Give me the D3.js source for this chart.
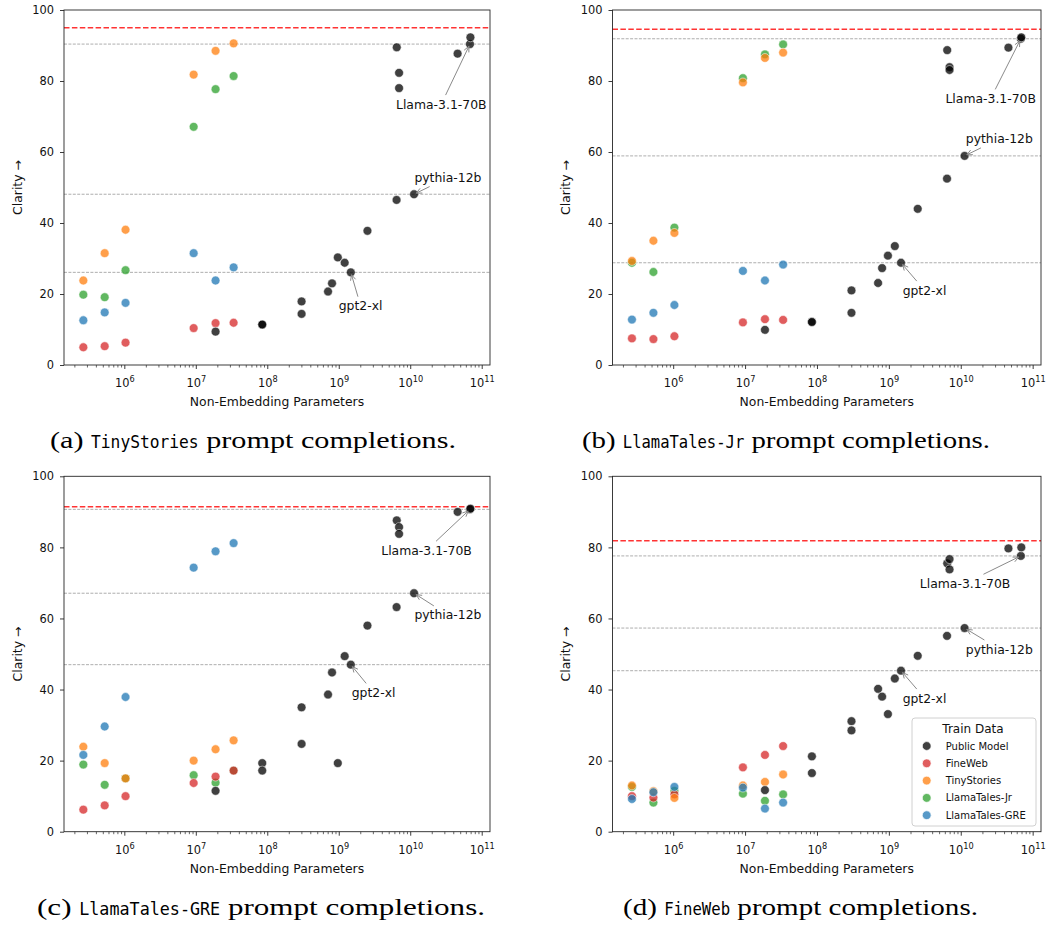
<!DOCTYPE html>
<html>
<head>
<meta charset="utf-8">
<script src="https://cdn.jsdelivr.net/npm/d3@7"></script>
<style>
  body { margin: 0; background: #fff; }
  svg text { font-family: "DejaVu Sans", sans-serif; }
</style>
</head>
<body>
<svg id="chart" width="1049" height="926"></svg>
<script>
// prompt sets, one per panel
var promptSets = ['TinyStories', 'LlamaTales-Jr', 'LlamaTales-GRE', 'FineWeb']
var panelLetters = ['a', 'b', 'c', 'd']

// legend / hue order
var trainData = ['Public Model', 'FineWeb', 'TinyStories', 'LlamaTales-Jr', 'LlamaTales-GRE']
var trainColors = ['#000000', '#d62728', '#ff7f0e', '#2ca02c', '#1f77b4']

// non-embedding params of the models we trained
var trainParams = [2.67e5, 5.31e5, 1.04e6, 9.33e6, 1.89e7, 3.38e7]

// clarity per panel (a, b, c, d) for each train set
var fineWebClarity = [
  [5.0, 5.3, 6.3, 10.4, 11.8, 11.9],
  [7.5, 7.3, 8.1, 12.0, 12.9, 12.7],
  [6.2, 7.4, 10.0, 13.7, 15.5, 17.2],
  [10.0, 9.6, 10.5, 18.1, 21.6, 24.1]
]
var tinyStoriesClarity = [
  [23.8, 31.5, 38.1, 81.8, 88.5, 90.6],
  [29.3, 35.0, 37.2, 79.6, 86.5, 88.0],
  [23.9, 19.3, 15.0, 20.0, 23.2, 25.7],
  [13.0, 11.4, 9.5, 13.0, 14.0, 16.1]
]
var llamaJrClarity = [
  [19.8, 19.1, 26.7, 67.1, 77.7, 81.4],
  [28.8, 26.2, 38.7, 80.8, 87.5, 90.3],
  [18.9, 13.2, 15.0, 15.9, 13.8, 17.2],
  [12.6, 8.2, 11.5, 10.7, 8.7, 10.5]
]
var llamaGreClarity = [
  [12.6, 14.8, 17.5, 31.5, 23.8, 27.5],
  [12.8, 14.7, 16.9, 26.5, 23.8, 28.3],
  [21.6, 29.6, 37.9, 74.3, 78.9, 81.2],
  [9.2, 11.1, 12.6, 12.4, 6.5, 8.2]
]

// public models (gpt2 / pythia / llama etc.)
var publicParams = [1.89e7, 8.5e7, 8.5e7, 3.02e8, 3.02e8, 7.08e8, 8.05e8, 9.7e8, 1.21e9, 1.475e9,
  2.52e9, 6.44e9, 1.13e10, 6.48e9, 6.98e9, 6.98e9, 4.6e10, 6.85e10, 6.95e10]
var publicClarity = [
  [9.4, 11.4, 11.4, 17.9, 14.4, 20.7, 23.0, 30.3, 28.8, 26.1, 37.8, 46.5, 48.1, 89.5, 82.3, 78.0, 87.7, 90.4, 92.3],
  [9.9, 12.2, 12.1, 21.0, 14.7, 23.1, 27.3, 30.8, 33.5, 28.8, 44.0, 52.5, 58.9, 88.7, 83.9, 83.1, 89.4, 91.9, 92.3],
  [11.5, 19.3, 17.2, 35.0, 24.7, 38.6, 44.8, 19.3, 49.4, 47.0, 58.0, 63.2, 67.1, 87.6, 85.7, 83.8, 90.0, 90.7, 90.9],
  [11.7, 21.2, 16.5, 31.1, 28.5, 40.2, 38.0, 33.1, 43.1, 45.3, 49.5, 55.1, 57.3, 75.5, 76.7, 73.8, 79.7, 77.6, 80.0]
]

// red dashed line per panel
var ceilingClarity = [95.0, 94.6, 91.4, 81.9]

// annotated models and where their labels sit (data coords, per panel)
var annotatedNames = ['Llama-3.1-70B', 'pythia-12b', 'gpt2-xl']
var annotatedIndex = [17, 12, 9]
var labelParams = [
  [2.72e10, 3.37e10, 2.02e9],
  [2.61e10, 3.44e10, 3.13e9],
  [1.69e10, 3.37e10, 3.07e9],
  [1.15e10, 3.44e10, 3.13e9]
]
var labelClarity = [
  [73.5, 52.8, 16.7],
  [75.1, 63.7, 21.1],
  [79.2, 61.0, 39.2],
  [69.9, 51.4, 37.6]
]

var xTickExponents = [6, 7, 8, 9, 10, 11]
var yTicks = [0, 20, 40, 60, 80, 100]

// ---- layout
const svg = d3.select('#chart')
const cols = [{ x: 64, w: 426 }, { x: 612.5, w: 428.5 }]
const rows = [{ y: 10, h: 355 }, { y: 476.3, h: 355.4 }]
const xDomain = [Math.pow(10, 5.156), Math.pow(10, 11.116)]
const captionBox = [
  { x: 50, y: 448, w: 406 },
  { x: 582, y: 448, w: 408 },
  { x: 37, y: 915, w: 448 },
  { x: 623, y: 915, w: 355 }
]
const R = 4.4

function seriesFor(i) {
  // drawing order (legend order is separate)
  return [
    { k: 3, params: trainParams, values: llamaJrClarity[i] },
    { k: 1, params: trainParams, values: fineWebClarity[i] },
    { k: 2, params: trainParams, values: tinyStoriesClarity[i] },
    { k: 4, params: trainParams, values: llamaGreClarity[i] },
    { k: 0, params: publicParams, values: publicClarity[i] }
  ]
}

// caption: serif + typewriter + serif, stretched to the measured width
function drawCaption(i) {
  const cb = captionBox[i]
  const parts = [
    { text: '(' + panelLetters[i] + ')', family: '"Liberation Serif", serif', size: 24, stretch: 1.24 },
    { text: promptSets[i], family: '"DejaVu Sans Mono", monospace', size: 18, stretch: 0.89 },
    { text: 'prompt completions.', family: '"Liberation Serif", serif', size: 24, stretch: 1.24 }
  ]
  const gap = 0.25 * 24 * 1.24
  const nodes = parts.map(function(p) {
    return svg.append('text')
      .attr('y', cb.y)
      .style('font-family', p.family)
      .style('font-size', p.size + 'px')
      .attr('fill', '#000')
      .text(p.text)
  })
  const widths = nodes.map((n, k) => n.node().getComputedTextLength() * parts[k].stretch)
  const total = d3.sum(widths) + 2 * gap
  const f = cb.w / total
  let cx = cb.x
  nodes.forEach(function(n, k) {
    n.attr('x', cx)
      .attr('textLength', widths[k] * f)
      .attr('lengthAdjust', 'spacingAndGlyphs')
    cx += widths[k] * f + gap * f
  })
}

function drawPanel(i) {
  const col = cols[i % 2]
  const row = rows[Math.floor(i / 2)]
  const x = d3.scaleLog().domain(xDomain).range([col.x, col.x + col.w])
  const y = d3.scaleLinear().domain([0, 100]).range([row.y + row.h, row.y])
  const g = svg.append('g')

  // horizontal reference lines at annotated models
  annotatedIndex.forEach(function(k) {
    const yy = y(publicClarity[i][k])
    g.append('line')
      .attr('x1', col.x).attr('x2', col.x + col.w)
      .attr('y1', yy).attr('y2', yy)
      .attr('stroke', '#7f7f7f')
      .attr('stroke-opacity', 0.8)
      .attr('stroke-width', 0.8)
      .attr('stroke-dasharray', '3,1.4')
  })
  const yc = y(ceilingClarity[i])
  g.append('line')
    .attr('x1', col.x).attr('x2', col.x + col.w)
    .attr('y1', yc).attr('y2', yc)
    .attr('stroke', '#ff0000')
    .attr('stroke-opacity', 0.8)
    .attr('stroke-width', 1.5)
    .attr('stroke-dasharray', '5.5,2.4')

  // x axis, log
  const majors = xTickExponents.map(e => Math.pow(10, e))
  const minors = []
  for (let e = 5; e <= 11; e++) {
    for (let m = 2; m <= 9; m++) {
      const v = m * Math.pow(10, e)
      if (v > xDomain[0] && v < xDomain[1]) minors.push(v)
    }
  }
  const xMinor = g.append('g')
    .attr('transform', `translate(0,${row.y + row.h})`)
    .call(d3.axisBottom(x).tickValues(minors).tickSize(2.5).tickFormat(''))
  xMinor.select('.domain').remove()
  xMinor.selectAll('line').attr('stroke', '#262626').attr('stroke-width', 0.7)

  const xAxis = g.append('g')
    .attr('transform', `translate(0,${row.y + row.h})`)
    .call(d3.axisBottom(x).tickValues(majors).tickSize(4).tickPadding(10.4).tickFormat(''))
  xAxis.select('.domain').remove()
  xAxis.selectAll('line').attr('stroke', '#262626').attr('stroke-width', 0.9)
  xAxis.selectAll('.tick text')
    .attr('font-size', 11.4)
    .attr('fill', '#111')
    .each(function(d) {
      const t = d3.select(this)
      t.append('tspan').text('10')
      t.append('tspan')
        .attr('dy', -5.5)
        .attr('font-size', 8.2)
        .text(Math.round(Math.log10(d)))
    })

  // y axis
  const yAxis = g.append('g')
    .attr('transform', `translate(${col.x},0)`)
    .call(d3.axisLeft(y).tickValues(yTicks).tickSize(4).tickPadding(6))
  yAxis.select('.domain').remove()
  yAxis.selectAll('line').attr('stroke', '#262626').attr('stroke-width', 0.9)
  yAxis.selectAll('text')
    .attr('font-size', 11.4)
    .attr('fill', '#111')

  // axis labels
  g.append('text')
    .attr('x', col.x + col.w / 2)
    .attr('y', row.y + row.h + 41)
    .attr('text-anchor', 'middle')
    .attr('font-size', 12.4)
    .attr('fill', '#111')
    .text('Non-Embedding Parameters')

  const lx = col.x - 47
  const ly = row.y + row.h / 2
  g.append('text')
    .attr('transform', `translate(${lx},${ly}) rotate(-90)`)
    .attr('text-anchor', 'middle')
    .attr('dominant-baseline', 'central')
    .attr('font-size', 12.4)
    .attr('fill', '#111')
    .text('Clarity \u2192')

  // points
  seriesFor(i).forEach(function(s) {
    g.append('g')
      .selectAll('circle')
      .data(s.values)
      .enter()
      .append('circle')
      .attr('cx', (v, j) => x(s.params[j]))
      .attr('cy', v => y(v))
      .attr('r', R)
      .attr('fill', trainColors[s.k])
      .attr('fill-opacity', 0.75)
      .attr('stroke', '#fff')
      .attr('stroke-opacity', 0.75)
      .attr('stroke-width', 0.7)
  })

  // annotations
  annotatedNames.forEach(function(name, n) {
    const k = annotatedIndex[n]
    const px = x(publicParams[k])
    const py = y(publicClarity[i][k])
    const tx = x(labelParams[i][n])
    const ty = y(labelClarity[i][n])
    const txt = g.append('text')
      .attr('x', tx)
      .attr('y', ty)
      .attr('text-anchor', 'middle')
      .attr('dominant-baseline', 'central')
      .attr('font-size', 12.4)
      .attr('fill', '#111')
      .text(name)
    const hw = txt.node().getComputedTextLength() / 2 + 2
    const hh = 9
    const dx = px - tx
    const dy = py - ty
    const t0 = Math.min(Math.abs(dx) > 0 ? hw / Math.abs(dx) : 1e9, Math.abs(dy) > 0 ? hh / Math.abs(dy) : 1e9)
    const sx = tx + dx * t0
    const sy = ty + dy * t0
    const len = Math.sqrt(dx * dx + dy * dy)
    const ux = dx / len
    const uy = dy / len
    const ex = px - ux * 2.5
    const ey = py - uy * 2.5
    g.append('line')
      .attr('x1', sx).attr('y1', sy)
      .attr('x2', ex).attr('y2', ey)
      .attr('stroke', '#8a8a8a')
      .attr('stroke-width', 1)
    const hl = 5.5
    const hwid = 2.6
    g.append('path')
      .attr('d', `M${ex - ux * hl - uy * hwid},${ey - uy * hl + ux * hwid}L${ex},${ey}L${ex - ux * hl + uy * hwid},${ey - uy * hl - ux * hwid}`)
      .attr('fill', 'none')
      .attr('stroke', '#8a8a8a')
      .attr('stroke-width', 1)
  })

  // frame
  g.append('rect')
    .attr('x', col.x).attr('y', row.y)
    .attr('width', col.w).attr('height', row.h)
    .attr('fill', 'none')
    .attr('stroke', '#262626')
    .attr('stroke-width', 0.9)

  drawCaption(i)
}

for (let i = 0; i < 4; i++) drawPanel(i)

// legend in panel d
const lg = svg.append('g')
lg.append('rect')
  .attr('x', 912).attr('y', 718)
  .attr('width', 124).attr('height', 108)
  .attr('rx', 3)
  .attr('fill', '#fff')
  .attr('fill-opacity', 0.8)
  .attr('stroke', '#d0d0d0')
  .attr('stroke-width', 1)
lg.append('text')
  .attr('x', 973)
  .attr('y', 732.5)
  .attr('text-anchor', 'middle')
  .attr('font-size', 12)
  .attr('fill', '#111')
  .text('Train Data')
trainData.forEach(function(name, k) {
  const yy = 746 + k * 17.3
  lg.append('circle')
    .attr('cx', 926.7).attr('cy', yy)
    .attr('r', R)
    .attr('fill', trainColors[k])
    .attr('fill-opacity', 0.75)
    .attr('stroke', '#fff')
    .attr('stroke-width', 0.7)
  lg.append('text')
    .attr('x', 945.7)
    .attr('y', yy)
    .attr('dominant-baseline', 'central')
    .attr('font-size', 10)
    .attr('fill', '#111')
    .text(name)
})
</script>
</body>
</html>
